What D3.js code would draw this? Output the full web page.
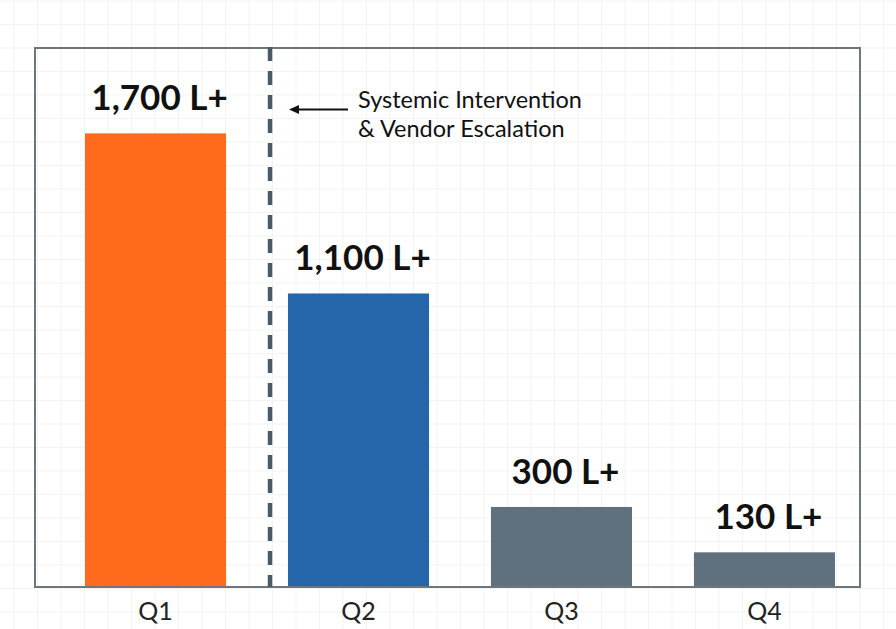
<!DOCTYPE html>
<html>
<head>
<meta charset="utf-8">
<script src="https://cdn.jsdelivr.net/npm/d3@7"></script>
<style>
  html, body { margin: 0; padding: 0; background: #ffffff; }
  svg { display: block; }
</style>
</head>
<body>
<div id="chart"></div>
<script>
// ---- data ----
const categories = ["Q1", "Q2", "Q3", "Q4"];
const values = [1700, 1100, 300, 130];
const valueLabels = ["1,700 L+", "1,100 L+", "300 L+", "130 L+"];
const barColors = ["#FF6A1C", "#2566AA", "#5F717D", "#5F717D"];
const annotationLines = ["Systemic Intervention", "& Vendor Escalation"];
const interventionAfter = "Q1";

// ---- layout ----
const W = 896, H = 629;
const frame = { left: 35, top: 48, right: 860, bottom: 587 };

const svg = d3.select("#chart").append("svg")
  .attr("width", W).attr("height", H);

// background grid paper
const gridStep = 23.5;
const grid = svg.append("g").attr("class", "grid");
grid.selectAll("line.v").data(d3.range(14, W, gridStep)).join("line")
  .attr("x1", d => d).attr("x2", d => d).attr("y1", 0).attr("y2", H)
  .attr("stroke", "#f2f3f4").attr("stroke-width", 1);
grid.selectAll("line.h").data(d3.range(1, H, gridStep)).join("line")
  .attr("x1", 0).attr("x2", W).attr("y1", d => d).attr("y2", d => d)
  .attr("stroke", "#f2f3f4").attr("stroke-width", 1);

// scales
const x = d3.scaleBand().domain(categories).range([85, 835]).paddingInner(0.305).paddingOuter(0);
const y = d3.scaleLinear().domain([0, 2020]).range([frame.bottom, frame.top]);

// bars
svg.append("g").selectAll("rect").data(categories).join("rect")
  .attr("x", d => x(d))
  .attr("y", (d, i) => y(values[i]))
  .attr("width", x.bandwidth())
  .attr("height", (d, i) => y(0) - y(values[i]))
  .attr("fill", (d, i) => barColors[i]);

// frame
svg.append("rect")
  .attr("x", frame.left).attr("y", frame.top)
  .attr("width", frame.right - frame.left).attr("height", frame.bottom - frame.top)
  .attr("fill", "none").attr("stroke", "#6E757B").attr("stroke-width", 2);

// x axis labels
const xAxis = d3.axisBottom(x).tickSize(0).tickPadding(10);
const gx = svg.append("g").attr("transform", `translate(0,${frame.bottom})`).call(xAxis);
gx.select(".domain").remove();
gx.selectAll("text")
  .attr("font-family", "Lato, 'Open Sans', sans-serif")
  .attr("font-size", 25)
  .attr("fill", "#222")
  .attr("dy", "0.9em");

// value labels
svg.append("g").selectAll("text").data(categories).join("text")
  .attr("x", d => x(d) + x.bandwidth() / 2 + 4)
  .attr("y", (d, i) => y(values[i]) - 23)
  .attr("text-anchor", "middle")
  .attr("font-family", "Lato, 'Open Sans', sans-serif")
  .attr("font-weight", 700)
  .attr("font-size", 35)
  .attr("fill", "#111")
  .text((d, i) => valueLabels[i]);

// intervention dashed line
const i0 = categories.indexOf(interventionAfter);
const gapStart = x(categories[i0]) + x.bandwidth();
const gapEnd = x(categories[i0 + 1]);
const xDash = gapStart + (gapEnd - gapStart) * 0.71;
svg.append("line")
  .attr("x1", xDash).attr("x2", xDash)
  .attr("y1", frame.top - 1).attr("y2", frame.bottom)
  .attr("stroke", "#4B5A67").attr("stroke-width", 4.5)
  .attr("stroke-dasharray", "14,10");

// annotation arrow and text
const annY = 109.5;
svg.append("line")
  .attr("x1", xDash + 78).attr("x2", xDash + 27)
  .attr("y1", annY).attr("y2", annY)
  .attr("stroke", "#111").attr("stroke-width", 2);
svg.append("path")
  .attr("d", `M${xDash + 19},${annY} L${xDash + 29},${annY - 4.5} L${xDash + 29},${annY + 4.5} Z`)
  .attr("fill", "#111");

svg.append("g").selectAll("text").data(annotationLines).join("text")
  .attr("x", xDash + 88)
  .attr("y", (d, i) => 107.5 + i * 29)
  .attr("font-family", "Lato, 'Open Sans', sans-serif")
  .attr("font-size", 23.5)
  .attr("fill", "#111")
  .text(d => d);
</script>
</body>
</html>
